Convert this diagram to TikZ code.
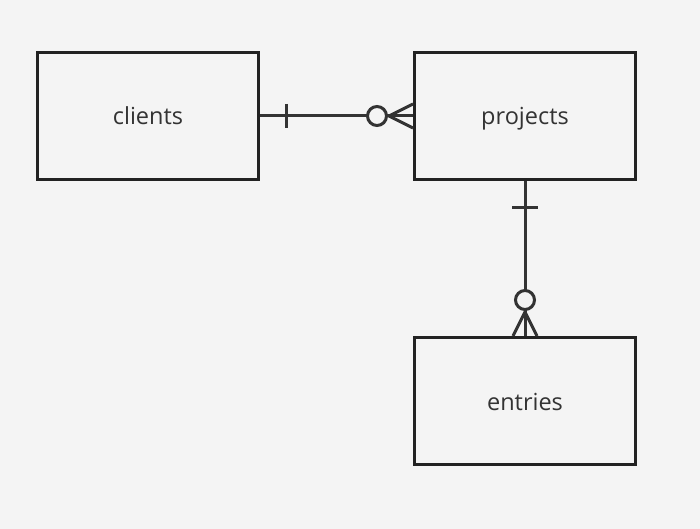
\documentclass[tikz,border=0pt]{standalone}
\usepackage{fontspec}
\setmainfont{Open Sans}
\usetikzlibrary{calc,positioning}
\definecolor{bgcol}{HTML}{F4F4F4}
\definecolor{boxline}{HTML}{222222}
\definecolor{linkcol}{HTML}{333333}
\tikzset{
entity/.style={ rectangle, draw=boxline, line width=3pt, minimum width=221pt, minimum height=127pt, text height=18pt, text depth=0pt, text=linkcol, font=\fontsize{23.5}{28}\selectfont},
link/.style={draw=linkcol, line width=3pt},
onebar/.style={draw=linkcol, line width=3pt},
zeroring/.style={draw=linkcol, line width=3pt, fill=bgcol},
crowfoot/.style={draw=linkcol, line width=3pt, line join=miter},
}

\begin{document}
\begin{tikzpicture}
[x=1pt, y=-1pt, node distance=153pt]
\fill[bgcol] (0,0) rectangle (700,529);
\useasboundingbox (0,0) rectangle (700,529);

\node[entity] (clients) at (148,116) {clients};
\node[entity, right=of clients] (projects) {projects};
\node[entity, below=155pt of projects] (entries) {entries};

% clients -- projects (one to zero-or-many)
\draw[link] (clients) -- (projects);
\draw[onebar] ($(clients.east)+(26,-12)$) -- ($(clients.east)+(26,12)$);
\draw[crowfoot] ($(projects.west)+(0,-12)$) -- ($(projects.west)+(-24,0)$) -- ($(projects.west)+(0,12)$);
\draw[zeroring] ($(projects.west)+(-36,0)$) circle (9.5);

% projects -- entries (one to zero-or-many)
\draw[link] (projects) -- (entries);
\draw[onebar] ($(projects.south)+(-13,26)$) -- ($(projects.south)+(13,26)$);
\draw[crowfoot] ($(entries.north)+(-12,0)$) -- ($(entries.north)+(0,-24)$) -- ($(entries.north)+(12,0)$);
\draw[zeroring] ($(entries.north)+(0,-36)$) circle (9.5);

\end{tikzpicture}
\end{document}
